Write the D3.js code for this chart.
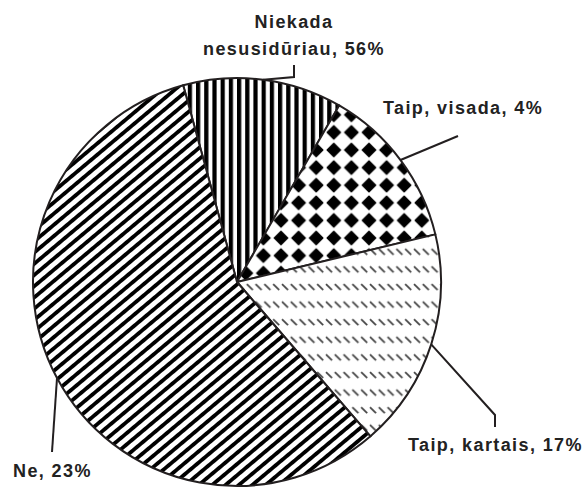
<!DOCTYPE html>
<html>
<head>
<meta charset="utf-8">
<script src="https://cdn.jsdelivr.net/npm/d3@7"></script>
<style>
  body { margin: 0; background: #fff; }
  svg { display: block; }
  .lbl { font-family: "Liberation Sans", Arial, sans-serif; font-weight: bold; font-size: 18px; fill: #222; letter-spacing: 1.4px; }
</style>
</head>
<body>
<svg width="587" height="488"></svg>
<script>
// slices in drawing order, clockwise from the top
var labels = ['Niekada\nnesusidūriau, 56%', 'Taip, visada, 4%', 'Taip, kartais, 17%', 'Ne, 23%'];
var sliceValues = [12.6, 12.9, 17.4, 57.1];
var patterns = ['vstripe', 'diamond', 'dash', 'diag'];

var svg = d3.select('svg');
var cx = 237, cy = 282, r = 204;

var defs = svg.append('defs');

var p = defs.append('pattern').attr('id', 'vstripe')
    .attr('patternUnits', 'userSpaceOnUse').attr('width', 8.2).attr('height', 10);
p.append('rect').attr('width', 8.2).attr('height', 10).attr('fill', '#fff');
p.append('rect').attr('width', 4.2).attr('height', 10).attr('fill', '#000');

p = defs.append('pattern').attr('id', 'diamond')
    .attr('patternUnits', 'userSpaceOnUse').attr('width', 17.6).attr('height', 17.6);
p.append('rect').attr('width', 17.6).attr('height', 17.6).attr('fill', '#fff');
p.append('path').attr('d', 'M8.8,2.2 L15.4,8.8 L8.8,15.4 L2.2,8.8 Z').attr('fill', '#000')
    .attr('stroke', '#000').attr('stroke-width', 1.5).attr('stroke-linejoin', 'round');

p = defs.append('pattern').attr('id', 'dash')
    .attr('patternUnits', 'userSpaceOnUse').attr('width', 8.8).attr('height', 17.6);
p.append('rect').attr('width', 8.8).attr('height', 17.6).attr('fill', '#fff');
p.append('line').attr('x1', 1).attr('y1', 2).attr('x2', 7).attr('y2', 8)
    .attr('stroke', '#444').attr('stroke-width', 1.8);

p = defs.append('pattern').attr('id', 'diag')
    .attr('patternUnits', 'userSpaceOnUse').attr('width', 10).attr('height', 8.6)
    .attr('patternTransform', 'rotate(-40)');
p.append('rect').attr('width', 10).attr('height', 8.6).attr('fill', '#fff');
p.append('rect').attr('width', 10).attr('height', 3.8).attr('fill', '#000');

var start = -15.3 * Math.PI / 180;
var pie = d3.pie().sort(null).startAngle(start).endAngle(start + 2 * Math.PI);
var arcs = pie(sliceValues);
var arc = d3.arc().innerRadius(0).outerRadius(r);

var g = svg.append('g').attr('transform', 'translate(' + cx + ',' + cy + ')');

g.selectAll('path.slice')
    .data(arcs)
    .enter()
    .append('path')
    .attr('class', 'slice')
    .attr('d', arc)
    .attr('fill', function(d, i){ return 'url(#' + patterns[i] + ')'; })
    .attr('stroke', '#231f20')
    .attr('stroke-width', 2)
    .attr('stroke-linejoin', 'round');

// leader lines: start on the rim at the slice middle, then bend to the label
var bends = [
    [[294 - cx, 77 - cy], [294 - cx, 65 - cy]],
    [[458 - cx, 136 - cy]],
    [[495 - cx, 415 - cy], [495 - cx, 427 - cy]],
    [[52 - cx, 452 - cy]]
];

g.selectAll('path.leader')
    .data(arcs)
    .enter()
    .append('path')
    .attr('class', 'leader')
    .attr('fill', 'none')
    .attr('stroke', '#231f20')
    .attr('stroke-width', 2)
    .attr('d', function(d, i){
        var a = (d.startAngle + d.endAngle) / 2;
        var pts = [[Math.sin(a) * r, -Math.cos(a) * r]].concat(bends[i]);
        return d3.line()(pts);
    });

var labelPos = [[294, 28, 'middle'], [383, 114, 'start'], [408, 451, 'start'], [13, 477, 'start']];

labels.forEach(function(t, i){
    var lines = t.split('\n');
    var txt = svg.append('text')
        .attr('class', 'lbl')
        .attr('text-anchor', labelPos[i][2])
        .attr('x', labelPos[i][0])
        .attr('y', labelPos[i][1]);
    lines.forEach(function(s, j){
        txt.append('tspan')
            .attr('x', labelPos[i][0])
            .attr('dy', j === 0 ? 0 : 27)
            .text(s);
    });
});
</script>
</body>
</html>
